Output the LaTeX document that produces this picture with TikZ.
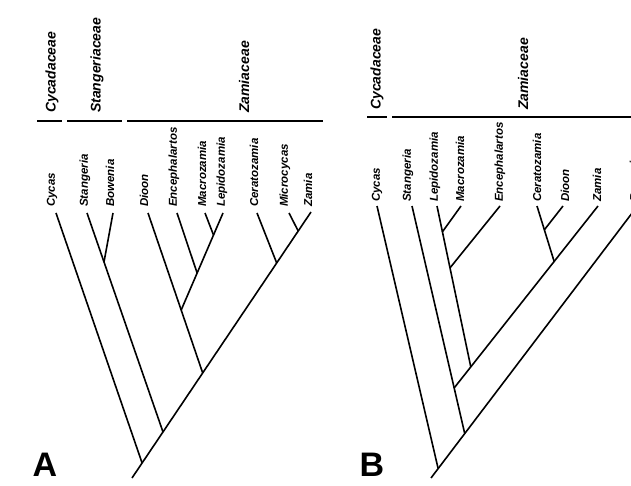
\documentclass[tikz,border=0pt]{standalone}
\usepackage{fontspec}
\setmainfont{Liberation Sans}
\begin{document}
\begin{tikzpicture}[x=1pt,y=-1pt,
  branch/.style={line width=1.6pt},
  famebar/.style={line width=2.5pt},
  taxon/.style={rotate=90,anchor=west,inner sep=0pt,font=\fontsize{11.5}{12}\selectfont\bfseries\itshape},
  family/.style={rotate=90,anchor=west,inner sep=0pt,font=\fontsize{14}{15}\selectfont\bfseries\itshape},
  panel/.style={inner sep=0pt,font=\fontsize{34}{36}\selectfont\bfseries}]
\useasboundingbox (0,0) rectangle (631,486);
\clip (0,0) rectangle (631,486);
\fill[white] (0,0) rectangle (631,486);

% ================= Panel A =================
\coordinate (AcycL) at (37,121); \coordinate (AcycR) at (62,121);
\coordinate (AstaL) at (67,121); \coordinate (AstaR) at (122,121);
\coordinate (AzamL) at (127,121); \coordinate (AzamR) at (323,121);
\draw[famebar] (AcycL) -- (AcycR);
\draw[famebar] (AstaL) -- (AstaR);
\draw[famebar] (AzamL) -- (AzamR);
\node[family] (AfCyc) at (52,113) {Cycadaceae};
\node[family] (AfSta) at (97,113) {Stangeriaceae};
\node[family] (AfZam) at (244,113) {Zamiaceae};

\node[taxon] (AlCycas) at (52,207) {Cycas};
\node[taxon] (AlStan) at (85,207) {Stangeria};
\node[taxon] (AlBow) at (110,207) {Bowenia};
\node[taxon] (AlDioon) at (144,207) {Dioon};
\node[taxon] (AlEnc) at (174,207) {Encephalartos};
\node[taxon] (AlMac) at (202,207) {Macrozamia};
\node[taxon] (AlLep) at (222,207) {Lepidozamia};
\node[taxon] (AlCer) at (254,207) {Ceratozamia};
\node[taxon] (AlMic) at (285,207) {Microcycas};
\node[taxon] (AlZam) at (308,207) {Zamia};

\coordinate (AtCycas) at (56,213);
\coordinate (AtStan) at (87,213);
\coordinate (AtBow) at (113,213);
\coordinate (AtDioon) at (148,213);
\coordinate (AtEnc) at (177,213);
\coordinate (AtMac) at (205,213);
\coordinate (AtLep) at (223,213);
\coordinate (AtCer) at (257,213);
\coordinate (AtMic) at (289,213);
\coordinate (AtZam) at (311,212);

\coordinate (Aroot) at (132,478);
\coordinate (An1) at (142.1,463);
\coordinate (An2) at (163.0,432);
\coordinate (AnBow) at (104.0,262);
\coordinate (An3) at (202.7,373);
\coordinate (AnDio) at (181.2,310);
\coordinate (AnEnc) at (197.1,273);
\coordinate (AnMac) at (213.5,235);
\coordinate (An4) at (276.7,263);
\coordinate (An5) at (298.2,231);

\draw[branch] (Aroot) -- (AtZam);
\draw[branch] (AtCycas) -- (An1);
\draw[branch] (AtStan) -- (An2);
\draw[branch] (AtBow) -- (AnBow);
\draw[branch] (AtDioon) -- (An3);
\draw[branch] (AtLep) -- (AnDio);
\draw[branch] (AtEnc) -- (AnEnc);
\draw[branch] (AtMac) -- (AnMac);
\draw[branch] (AtCer) -- (An4);
\draw[branch] (AtMic) -- (An5);

\node[panel] (PA) at (45,465) {A};

% ================= Panel B =================
\coordinate (BcycL) at (367,117); \coordinate (BcycR) at (387,117);
\coordinate (BzamL) at (392,117); \coordinate (BzamR) at (640,117);
\draw[famebar] (BcycL) -- (BcycR);
\draw[famebar] (BzamL) -- (BzamR);
\node[family] (BfCyc) at (377,110) {Cycadaceae};
\node[family] (BfZam) at (523,110) {Zamiaceae};

\node[taxon] (BlCycas) at (377,202) {Cycas};
\node[taxon] (BlStan) at (408,202) {Stangeria};
\node[taxon] (BlLep) at (435,202) {Lepidozamia};
\node[taxon] (BlMac) at (460,202) {Macrozamia};
\node[taxon] (BlEnc) at (500,202) {Encephalartos};
\node[taxon] (BlCer) at (537,202) {Ceratozamia};
\node[taxon] (BlDioon) at (565,202) {Dioon};
\node[taxon] (BlZam) at (597,202) {Zamia};
\node[taxon] (BlBow) at (634,202) {Bowenia};

\coordinate (BtCycas) at (377,206);
\coordinate (BtStan) at (412,206);
\coordinate (BtLep) at (437,206);
\coordinate (BtMac) at (461,206);
\coordinate (BtEnc) at (500,206);
\coordinate (BtCer) at (537,206);
\coordinate (BtDioon) at (563,206);
\coordinate (BtZam) at (598,206);
\coordinate (BtBow) at (642,200);

\coordinate (Broot) at (431,478);
\coordinate (Bn1) at (438,468);
\coordinate (Bn2) at (464.6,433);
\coordinate (BnZ) at (454.1,388);
\coordinate (BnL) at (470.8,367);
\coordinate (BnMac) at (442.3,232);
\coordinate (BnEnc) at (449.9,268);
\coordinate (BnCer) at (554.3,262);
\coordinate (BnDio) at (544.2,230);

\draw[branch] (Broot) -- (BtBow);
\draw[branch] (BtCycas) -- (Bn1);
\draw[branch] (BtStan) -- (Bn2);
\draw[branch] (BtZam) -- (BnZ);
\draw[branch] (BtLep) -- (BnL);
\draw[branch] (BtMac) -- (BnMac);
\draw[branch] (BtEnc) -- (BnEnc);
\draw[branch] (BtCer) -- (BnCer);
\draw[branch] (BtDioon) -- (BnDio);

\node[panel] (PB) at (372,465) {B};
\end{tikzpicture}
\end{document}
